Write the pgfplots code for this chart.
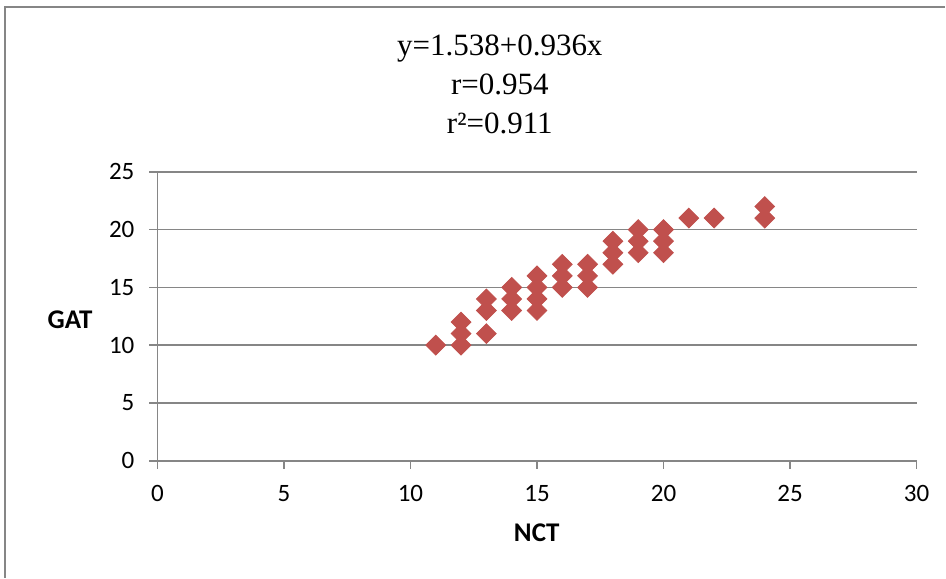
\documentclass[border=0pt]{standalone}
\usepackage{pgfplots}
\pgfplotsset{compat=1.18}
\usepackage{fontspec}
\setmainfont{Carlito}
\newfontfamily\serifrm{Liberation Serif}
\definecolor{excelred}{HTML}{C0504D}
\definecolor{gridgray}{HTML}{868686}

\begin{document}
\begin{tikzpicture}
\begin{axis}[
  scale only axis, width=379.75pt, height=144.5pt,
  xmin=0, xmax=30, ymin=0, ymax=25,
  xtick={0,5,...,30}, ytick={0,5,...,25},
  axis x line*=bottom, axis y line*=left,
  axis line style={draw=gridgray, line width=0.8pt},
  tick style={draw=gridgray, line width=0.8pt},
  xtick align=outside, ytick align=outside,
  major tick length=4pt,
  ymajorgrids, grid style={draw=gridgray, line width=0.8pt},
  tick label style={font=\fontsize{12.5}{14}\selectfont},
  /pgf/number format/assume math mode=true,
  xticklabel style={yshift=-5pt},
  yticklabel style={xshift=-4pt},
  xlabel={\textbf{NCT}}, ylabel={\textbf{GAT}},
  xlabel style={at={(axis description cs:0.4997,-0.249)}, anchor=center, font=\fontsize{13.5}{16}\selectfont},
  ylabel style={at={(axis description cs:-0.115,0.488)}, anchor=center, rotate=-90, font=\fontsize{13.5}{16}\selectfont},
  clip=false,
]
\addplot[only marks, mark=square*, mark size=3.5pt, mark options={rotate=45, fill=excelred, draw=excelred}] coordinates {
(11,10)
(12,10) (12,11) (12,12)
(13,11) (13,13) (13,14)
(14,13) (14,14) (14,15)
(15,13) (15,14) (15,15) (15,16)
(16,15) (16,16) (16,17)
(17,15) (17,16) (17,17)
(18,17) (18,18) (18,19)
(19,18) (19,19) (19,20)
(20,18) (20,19) (20,20)
(21,21) (22,21)
(24,21) (24,22)
};
\node[align=center, font=\serifrm\fontsize{15.5}{19.5}\selectfont, anchor=center]
  at (rel axis cs:0.451,1.304) {y=1.538+0.936x\\r=0.954\\r²=0.911};
\draw[draw=gridgray, line width=0.6pt] (rel axis cs:-0.2008,-0.405) -- (rel axis cs:-0.2008,1.571) -- (rel axis cs:1.038,1.571);
\path (rel axis cs:-0.2074,-0.405) rectangle (rel axis cs:1.038,1.595);
\end{axis}
\end{tikzpicture}
\end{document}
